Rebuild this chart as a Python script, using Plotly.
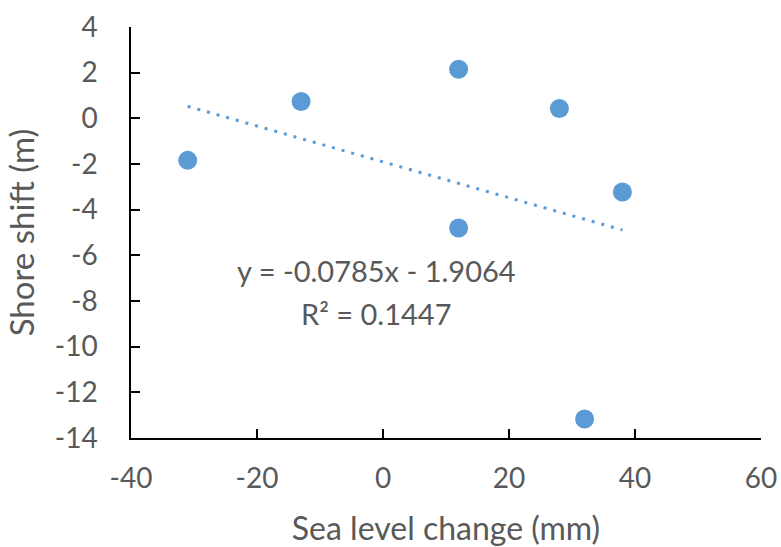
import plotly.graph_objects as go

# Data
sea_level_change = [-31, -13, 12, 28, 38, 12, 32]
shore_shift = [-1.84, 0.74, 2.15, 0.43, -3.23, -4.80, -13.17]

# Linear trendline as printed on the chart
slope = -0.0785
intercept = -1.9064
r_squared = 0.1447

x_ticks = [-40, -20, 0, 20, 40, 60]
x_tick_labels = ["-40", "-20", "0", "20", "40", "60"]
y_ticks = [4, 2, 0, -2, -4, -6, -8, -10, -12, -14]
y_tick_labels = ["4", "2", "0", "-2", "-4", "-6", "-8", "-10", "-12", "-14"]

trend_x = [min(sea_level_change), max(sea_level_change)]
trend_y = [slope * v + intercept for v in trend_x]

FONT = "Lato"
GREY = "#595959"
BLUE = "#5B9BD5"

fig = go.Figure()
fig.add_trace(go.Scatter(
    x=trend_x, y=trend_y, mode="lines",
    line=dict(color=BLUE, width=3, dash="3px,7px"),
    hoverinfo="skip", showlegend=False,
))
fig.add_trace(go.Scatter(
    x=sea_level_change, y=shore_shift, mode="markers",
    marker=dict(color=BLUE, size=19, line=dict(width=0)),
    showlegend=False,
))

fig.add_annotation(
    x=-1.1, y=-6.65, xref="x", yref="y",
    text=f"y = {slope}x - {abs(intercept)}",
    showarrow=False, font=dict(family=FONT, size=29, color=GREY),
)
fig.add_annotation(
    x=-1.1, y=-8.55, xref="x", yref="y",
    text=f"R² = {r_squared}",
    showarrow=False, font=dict(family=FONT, size=29, color=GREY),
)

axis_common = dict(
    showline=True, linecolor="black", linewidth=1.5,
    ticks="inside", ticklen=9, tickwidth=1.5, tickcolor="black",
    showgrid=False, zeroline=False, automargin=False,
    tickfont=dict(family=FONT, size=28, color=GREY),
)

fig.update_layout(
    width=781, height=547,
    margin=dict(l=131, r=20, t=27, b=109),
    paper_bgcolor="white", plot_bgcolor="white",
    xaxis=dict(
        range=[-40, 60], tickvals=x_ticks, ticktext=x_tick_labels,
        ticklabelstandoff=15,
        title=dict(text="Sea level change (mm)", standoff=28,
                   font=dict(family=FONT, size=32, color=GREY)),
        **axis_common,
    ),
    yaxis=dict(
        range=[-14, 4], tickvals=y_ticks, ticktext=y_tick_labels,
        ticklabelstandoff=26,
        title=dict(text="Shore shift (m)", standoff=10,
                   font=dict(family=FONT, size=33, color=GREY)),
        **axis_common,
    ),
)

fig.write_html("out.html")
